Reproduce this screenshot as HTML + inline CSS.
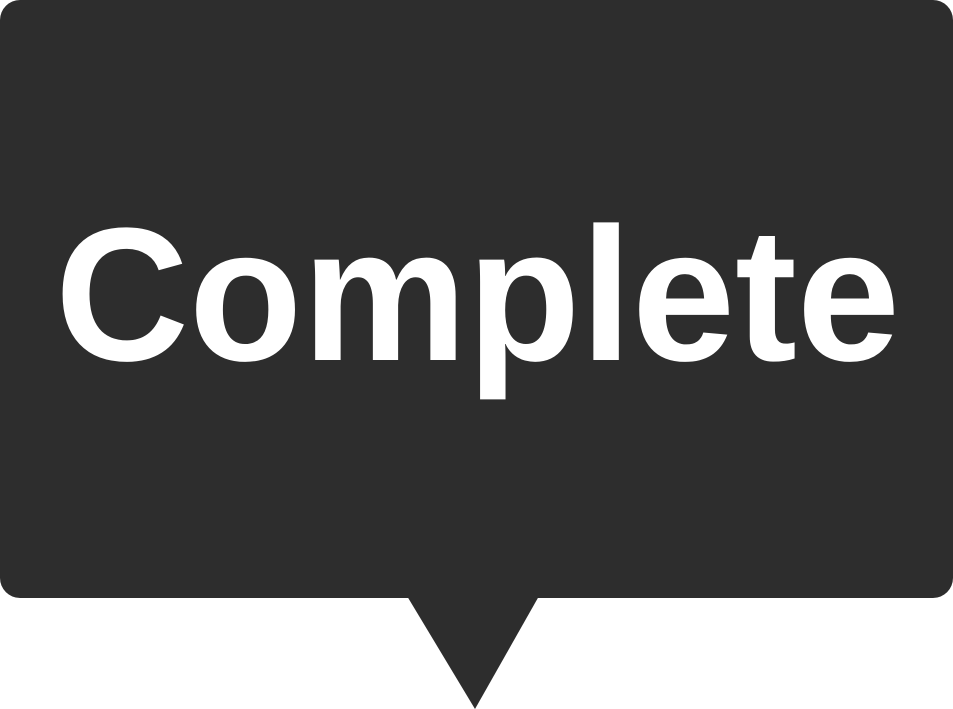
<!DOCTYPE html>
<html>
<head>
<meta charset="utf-8">
<style>
  html, body { margin: 0; padding: 0; background: #ffffff; }
  svg { display: block; }
</style>
</head>
<body>
<svg width="953" height="709" viewBox="0 0 953 709">
  <rect x="0" y="0" width="953" height="598" rx="20" ry="20" fill="#2d2d2d"/>
  <polygon points="407,596 539,596 475,709" fill="#2d2d2d"/>
  <text x="55" y="360" font-family="'Liberation Sans', sans-serif" font-weight="bold" font-size="190" fill="#ffffff" textLength="845" lengthAdjust="spacingAndGlyphs">Complete</text>
</svg>
</body>
</html>
